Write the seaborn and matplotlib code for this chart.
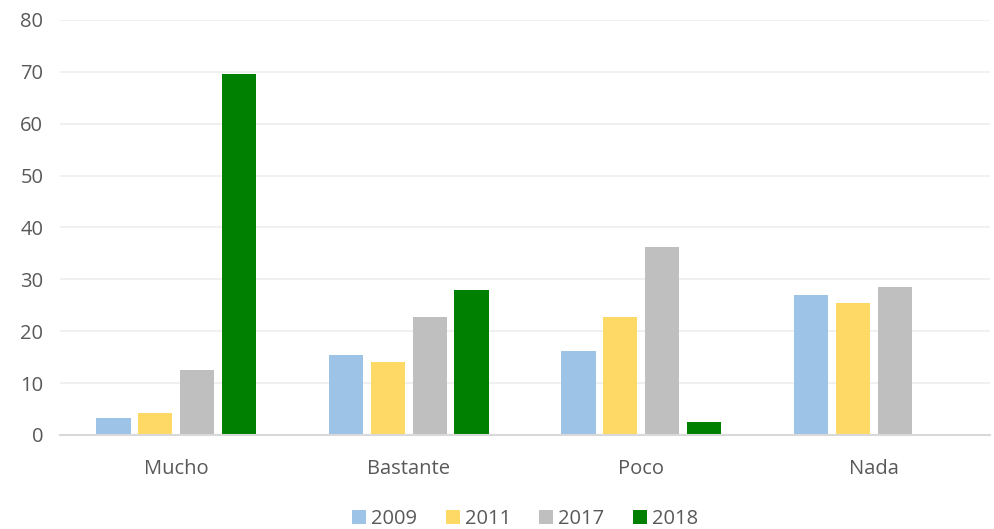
import numpy as np
import pandas as pd
import seaborn as sns
import matplotlib.pyplot as plt

categories = ["Mucho", "Bastante", "Poco", "Nada"]
years = ["2009", "2011", "2017", "2018"]
v2009 = [3.2, 15.5, 16.1, 27.0]
v2011 = [4.3, 14.0, 22.8, 25.4]
v2017 = [12.5, 22.7, 36.3, 28.5]
v2018 = [69.5, 27.9, 2.6, np.nan]
colors = ["#9DC3E6", "#FFD966", "#BFBFBF", "#008000"]

records = []
for year, vals in zip(years, [v2009, v2011, v2017, v2018]):
    for cat, v in zip(categories, vals):
        records.append({"cat": cat, "year": year, "value": v})
df = pd.DataFrame(records)

sns.set_style("white")
plt.rcParams["font.family"] = ["Open Sans", "DejaVu Sans"]

fig = plt.figure(figsize=(9.94, 5.29), dpi=100)
ax = fig.add_axes([60 / 994, (529 - 435) / 529, 930 / 994, 415 / 529])

sns.barplot(
    data=df, x="cat", y="value", hue="year",
    order=categories, hue_order=years,
    palette=colors, saturation=1, width=0.72, gap=0.18,
    linewidth=0, errorbar=None, ax=ax
)

ax.set_ylim(0, 80)
ax.set_yticks(range(0, 81, 10))
ax.yaxis.grid(True, color="#EEEEEE", linewidth=1.2)
ax.set_axisbelow(True)
for s in ["top", "right", "left"]:
    ax.spines[s].set_visible(False)
ax.spines["bottom"].set_color("#D9D9D9")
ax.spines["bottom"].set_linewidth(1.5)
ax.tick_params(axis="both", length=0, labelsize=14.5, colors="#595959")
ax.tick_params(axis="x", pad=17)
ax.tick_params(axis="y", pad=12)
ax.set_xlabel("")
ax.set_ylabel("")

ax.legend(
    loc="lower center", bbox_to_anchor=(0.5, -0.27), ncol=4,
    frameon=False, fontsize=14.5, handlelength=0.7, handleheight=0.7,
    handletextpad=0.25, columnspacing=1.4, labelcolor="#595959"
)

fig.savefig("out.png", dpi=100)
